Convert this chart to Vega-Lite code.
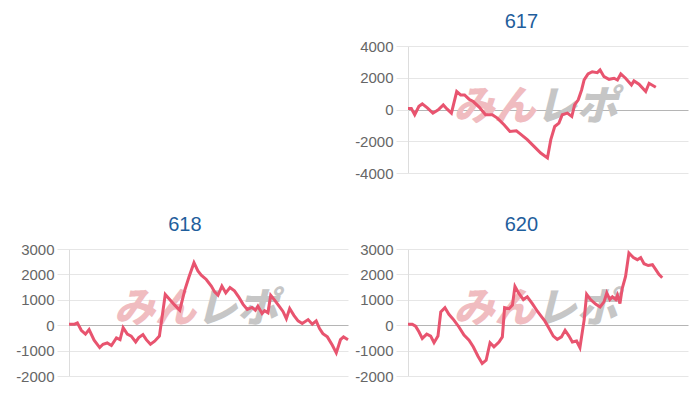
{
  "$schema": "https://vega.github.io/schema/vega-lite/v6.json",
  "background": "white",
  "padding": {"left": 15, "top": 12, "right": 5, "bottom": 5},
  "columns": 2,
  "spacing": {"column": 0, "row": 34},
  "datasets": {
    "p617": [
      {"x":0,"y":60},{"x":1.2,"y":60},{"x":2.4,"y":-330},{"x":3.9,"y":200},{"x":5.1,"y":350},{"x":6.9,"y":100},{"x":8.9,"y":-230},{"x":10.8,"y":-20},{"x":12.6,"y":290},{"x":14.0,"y":20},{"x":15.5,"y":-230},{"x":17.4,"y":1130},{"x":18.8,"y":920},{"x":20.2,"y":920},{"x":21.8,"y":650},{"x":23.3,"y":500},{"x":25.4,"y":150},{"x":27.7,"y":-330},{"x":30.1,"y":-330},{"x":31.9,"y":-540},{"x":34.3,"y":-960},{"x":36.4,"y":-1380},{"x":38.7,"y":-1340},{"x":40.2,"y":-1550},{"x":42.6,"y":-1900},{"x":45.0,"y":-2320},{"x":47.4,"y":-2740},{"x":49.8,"y":-3050},{"x":51.0,"y":-1900},{"x":52.4,"y":-1070},{"x":53.9,"y":-860},{"x":55.1,"y":-330},{"x":56.9,"y":-230},{"x":58.5,"y":-440},{"x":59.5,"y":290},{"x":60.8,"y":610},{"x":62.0,"y":1230},{"x":62.9,"y":1860},{"x":64.3,"y":2240},{"x":65.8,"y":2380},{"x":67.6,"y":2320},{"x":68.6,"y":2490},{"x":70.0,"y":2070},{"x":71.8,"y":1900},{"x":73.6,"y":1970},{"x":74.8,"y":1860},{"x":76.0,"y":2240},{"x":77.7,"y":1970},{"x":79.8,"y":1550},{"x":80.7,"y":1800},{"x":82.5,"y":1590},{"x":84.9,"y":1130},{"x":86.1,"y":1650},{"x":88.5,"y":1400}
    ],
    "p618": [
      {"x":0,"y":40},{"x":2.0,"y":40},{"x":3.0,"y":90},{"x":4.4,"y":-200},{"x":5.9,"y":-350},{"x":7.2,"y":-170},{"x":9.0,"y":-590},{"x":11.0,"y":-880},{"x":12.2,"y":-750},{"x":13.7,"y":-700},{"x":15.2,"y":-800},{"x":17.0,"y":-500},{"x":18.3,"y":-570},{"x":19.4,"y":-100},{"x":20.9,"y":-350},{"x":22.3,"y":-430},{"x":23.9,"y":-660},{"x":25.0,"y":-490},{"x":26.5,"y":-370},{"x":27.7,"y":-570},{"x":29.2,"y":-750},{"x":30.7,"y":-630},{"x":32.4,"y":-430},{"x":34.5,"y":1210},{"x":36.1,"y":1010},{"x":37.9,"y":790},{"x":39.7,"y":590},{"x":41.5,"y":1380},{"x":43.0,"y":1900},{"x":44.8,"y":2460},{"x":46.2,"y":2140},{"x":47.4,"y":1970},{"x":49.2,"y":1800},{"x":51.0,"y":1540},{"x":52.2,"y":1310},{"x":53.4,"y":1180},{"x":54.8,"y":1540},{"x":56.2,"y":1270},{"x":57.7,"y":1480},{"x":59.3,"y":1350},{"x":60.8,"y":1120},{"x":62.4,"y":820},{"x":63.9,"y":620},{"x":65.6,"y":700},{"x":66.8,"y":590},{"x":67.7,"y":750},{"x":69.2,"y":460},{"x":70.1,"y":570},{"x":71.3,"y":490},{"x":72.3,"y":1180},{"x":73.7,"y":990},{"x":75.3,"y":750},{"x":76.7,"y":540},{"x":77.9,"y":260},{"x":79.1,"y":660},{"x":80.6,"y":390},{"x":82.1,"y":170},{"x":83.6,"y":70},{"x":85.7,"y":220},{"x":87.2,"y":40},{"x":88.6,"y":170},{"x":89.8,"y":-130},{"x":91.0,"y":-330},{"x":92.6,"y":-460},{"x":94.4,"y":-790},{"x":95.8,"y":-1090},{"x":97.3,"y":-570},{"x":98.4,"y":-460},{"x":100,"y":-570}
    ],
    "p620": [
      {"x":0,"y":40},{"x":1.5,"y":40},{"x":2.7,"y":-40},{"x":3.9,"y":-260},{"x":5.1,"y":-520},{"x":6.7,"y":-350},{"x":8.1,"y":-430},{"x":9.3,"y":-690},{"x":10.7,"y":-430},{"x":11.7,"y":520},{"x":13.2,"y":690},{"x":14.6,"y":430},{"x":16.4,"y":200},{"x":18.2,"y":-70},{"x":20.0,"y":-390},{"x":21.8,"y":-590},{"x":23.3,"y":-850},{"x":25.0,"y":-1220},{"x":26.5,"y":-1510},{"x":27.9,"y":-1380},{"x":29.3,"y":-690},{"x":30.7,"y":-850},{"x":32.5,"y":-660},{"x":33.7,"y":-460},{"x":34.5,"y":690},{"x":36.1,"y":650},{"x":37.3,"y":790},{"x":38.2,"y":1530},{"x":39.6,"y":1250},{"x":41.2,"y":1010},{"x":42.6,"y":1120},{"x":44.4,"y":850},{"x":46.2,"y":550},{"x":47.6,"y":350},{"x":48.9,"y":160},{"x":50.4,"y":-130},{"x":51.9,"y":-430},{"x":53.3,"y":-560},{"x":54.8,"y":-460},{"x":56.1,"y":-200},{"x":57.5,"y":-430},{"x":58.7,"y":-660},{"x":60.2,"y":-620},{"x":61.4,"y":-880},{"x":62.9,"y":200},{"x":63.8,"y":1220},{"x":65.2,"y":1010},{"x":67.0,"y":830},{"x":68.6,"y":720},{"x":70.0,"y":920},{"x":71.0,"y":1270},{"x":72.1,"y":1010},{"x":73.0,"y":1120},{"x":74.2,"y":1010},{"x":74.8,"y":1180},{"x":75.7,"y":850},{"x":76.5,"y":1440},{"x":77.7,"y":1920},{"x":78.9,"y":2840},{"x":80.5,"y":2660},{"x":81.9,"y":2580},{"x":83.1,"y":2660},{"x":84.3,"y":2420},{"x":85.8,"y":2350},{"x":87.3,"y":2380},{"x":88.5,"y":2190},{"x":89.6,"y":2000},{"x":90.8,"y":1870}
    ]
  },
  "concat": [
    {
      "width": 280, "height": 127,
      "data": {"values": [{}]},
      "mark": {"type": "text", "text": ""},
      "encoding": {}
    },
    {
      "width": 280, "height": 127,
      "title": {"text": "617"},
      "encoding": {
        "y": {"type": "quantitative", "scale": {"domain": [-4000, 4000], "nice": false},
              "axis": {"title": null, "grid": true, "values": [-4000, -2000, 0, 2000, 4000], "labelExpr": "'' + datum.value",
                       "gridColor": {"condition": {"test": "datum.value === 0", "value": "#b5b5b5"}, "value": "#e6e6e6"}}}
      },
      "layer": [
        {
          "data": {"values": [{}]},
          "mark": {"type": "text", "text": "みん", "align": "right", "baseline": "middle", "font": "Noto Sans CJK JP", "fontSize": 41, "fontWeight": 900, "fontStyle": "italic", "color": "#f0bcc0"},
          "encoding": {
            "x": {"datum": 45.5, "type": "quantitative", "axis": null},
            "y": {"datum": 100}
          }
        },
        {
          "data": {"values": [{}]},
          "mark": {"type": "text", "text": "レポ", "align": "left", "baseline": "middle", "font": "Noto Sans CJK JP", "fontSize": 41, "fontWeight": 900, "fontStyle": "italic", "color": "#c6c6c6"},
          "encoding": {
            "x": {"datum": 45.5, "type": "quantitative", "axis": null},
            "y": {"datum": 100}
          }
        },
        {
          "data": {"name": "p617"},
          "mark": {"type": "line", "color": "#e8546f", "strokeWidth": 3},
          "encoding": {
            "x": {"field": "x", "type": "quantitative", "scale": {"domain": [0, 100], "nice": false, "zero": false}, "axis": null},
            "y": {"field": "y"}
          }
        }
      ]
    },
    {
      "width": 279, "height": 127,
      "title": {"text": "618"},
      "encoding": {
        "y": {"type": "quantitative", "scale": {"domain": [-2000, 3000], "nice": false},
              "axis": {"title": null, "grid": true, "values": [-2000, -1000, 0, 1000, 2000, 3000], "labelExpr": "'' + datum.value",
                       "gridColor": {"condition": {"test": "datum.value === 0", "value": "#b5b5b5"}, "value": "#e6e6e6"}}}
      },
      "layer": [
        {
          "data": {"values": [{}]},
          "mark": {"type": "text", "text": "みん", "align": "right", "baseline": "middle", "font": "Noto Sans CJK JP", "fontSize": 41, "fontWeight": 900, "fontStyle": "italic", "color": "#f0bcc0"},
          "encoding": {
            "x": {"datum": 45.5, "type": "quantitative", "axis": null},
            "y": {"datum": 600}
          }
        },
        {
          "data": {"values": [{}]},
          "mark": {"type": "text", "text": "レポ", "align": "left", "baseline": "middle", "font": "Noto Sans CJK JP", "fontSize": 41, "fontWeight": 900, "fontStyle": "italic", "color": "#c6c6c6"},
          "encoding": {
            "x": {"datum": 45.5, "type": "quantitative", "axis": null},
            "y": {"datum": 600}
          }
        },
        {
          "data": {"name": "p618"},
          "mark": {"type": "line", "color": "#e8546f", "strokeWidth": 3},
          "encoding": {
            "x": {"field": "x", "type": "quantitative", "scale": {"domain": [0, 100], "nice": false, "zero": false}, "axis": null},
            "y": {"field": "y"}
          }
        }
      ]
    },
    {
      "width": 280, "height": 127,
      "title": {"text": "620"},
      "encoding": {
        "y": {"type": "quantitative", "scale": {"domain": [-2000, 3000], "nice": false},
              "axis": {"title": null, "grid": true, "values": [-2000, -1000, 0, 1000, 2000, 3000], "labelExpr": "'' + datum.value",
                       "gridColor": {"condition": {"test": "datum.value === 0", "value": "#b5b5b5"}, "value": "#e6e6e6"}}}
      },
      "layer": [
        {
          "data": {"values": [{}]},
          "mark": {"type": "text", "text": "みん", "align": "right", "baseline": "middle", "font": "Noto Sans CJK JP", "fontSize": 41, "fontWeight": 900, "fontStyle": "italic", "color": "#f0bcc0"},
          "encoding": {
            "x": {"datum": 45.5, "type": "quantitative", "axis": null},
            "y": {"datum": 600}
          }
        },
        {
          "data": {"values": [{}]},
          "mark": {"type": "text", "text": "レポ", "align": "left", "baseline": "middle", "font": "Noto Sans CJK JP", "fontSize": 41, "fontWeight": 900, "fontStyle": "italic", "color": "#c6c6c6"},
          "encoding": {
            "x": {"datum": 45.5, "type": "quantitative", "axis": null},
            "y": {"datum": 600}
          }
        },
        {
          "data": {"name": "p620"},
          "mark": {"type": "line", "color": "#e8546f", "strokeWidth": 3},
          "encoding": {
            "x": {"field": "x", "type": "quantitative", "scale": {"domain": [0, 100], "nice": false, "zero": false}, "axis": null},
            "y": {"field": "y"}
          }
        }
      ]
    }
  ],
  "config": {
    "view": {"stroke": null},
    "font": "Liberation Sans",
    "axis": {
      "labelFontSize": 15,
      "labelColor": "#666666",
      "labelFont": "Liberation Sans",
      "domainColor": "#dddddd",
      "tickColor": "#e6e6e6",
      "tickSize": 12,
      "labelPadding": 3
    },
    "title": {
      "fontSize": 20,
      "fontWeight": "normal",
      "font": "Liberation Sans",
      "color": "#1f5e9c",
      "anchor": "middle",
      "frame": "bounds",
      "offset": 7
    }
  }
}
